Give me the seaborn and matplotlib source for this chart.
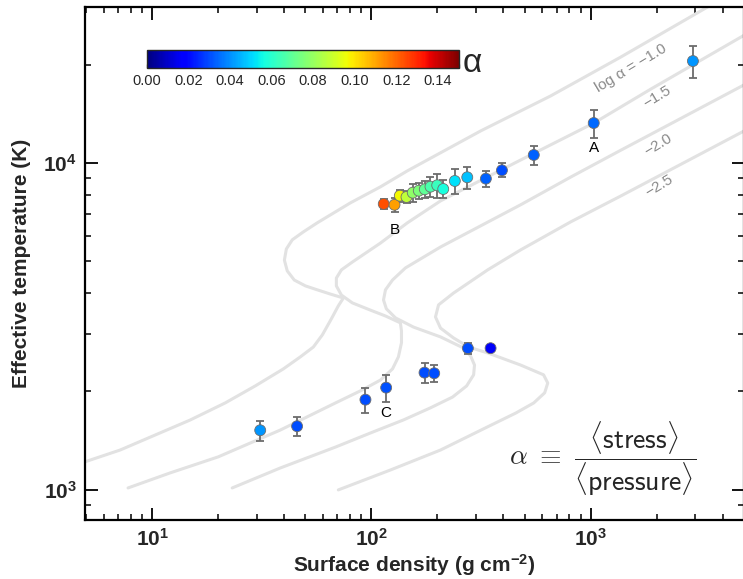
import numpy as np
import pandas as pd
import matplotlib
matplotlib.use("Agg")
import matplotlib.pyplot as plt
import matplotlib.ticker as mticker
from matplotlib.colors import Normalize
from matplotlib.cm import ScalarMappable
import seaborn as sns

# ---- simulation results: surface density (g cm^-2), effective temperature (K) ----
sigma_hot = [113.8, 127.4, 134.7, 144.5, 154.3, 164.4, 175.1, 185.9, 199.5, 212.5,
             240.0, 273.5, 332.5, 393.6, 550.0, 1032.0, 2924.0]
teff_hot = [7494, 7450, 7943, 7870, 8113, 8228, 8310, 8463, 8546, 8326,
            8810, 9042, 8954, 9499, 10580, 13250, 20500]
teff_err_hot = [265, 370, 335, 335, 520, 470, 475, 600, 730, 530,
                750, 700, 510, 470, 710, 1320, 2280]
alpha_hot = [0.124, 0.111, 0.097, 0.087, 0.079, 0.075, 0.070, 0.066, 0.063, 0.057,
             0.052, 0.047, 0.033, 0.030, 0.033, 0.034, 0.041]

sigma_cold = [31.1, 45.8, 93.9, 116.7, 174.6, 193.3, 275.3, 349.4]
teff_cold = [1522, 1566, 1888, 2055, 2284, 2274, 2713, 2713]
teff_err_cold = [107, 100, 165, 197, 165, 135, 100, 60]
alpha_cold = [0.041, 0.030, 0.030, 0.031, 0.030, 0.030, 0.030, 0.016]

# labelled snapshots: (name, surface density, temperature)
marked = [("A", 1032.0, 13250), ("B", 127.4, 7450), ("C", 116.7, 2055)]

# ---- thermal equilibrium S-curves (log10 sigma, log10 Teff) ----
scurve_m10_logsig = [0.694, 0.854, 1.014, 1.174, 1.333, 1.470, 1.598, 1.676, 1.735, 1.776,
                     1.817, 1.849, 1.872, 1.813, 1.753, 1.699, 1.648, 1.616, 1.603, 1.612,
                     1.639, 1.689, 1.753, 1.904, 2.041, 2.164, 2.498, 2.817, 3.137, 3.548]
scurve_m10_logt = [3.086, 3.122, 3.168, 3.214, 3.266, 3.318, 3.370, 3.407, 3.437, 3.474,
                   3.523, 3.563, 3.587, 3.599, 3.612, 3.624, 3.642, 3.670, 3.703, 3.737,
                   3.765, 3.789, 3.817, 3.878, 3.927, 3.976, 4.098, 4.205, 4.324, 4.483]

scurve_m15_logsig = [0.890, 1.082, 1.301, 1.584, 1.836, 1.959, 2.041, 2.096, 2.123, 2.137,
                     2.137, 2.132, 2.064, 1.995, 1.913, 1.863, 1.840, 1.840, 1.863, 1.913,
                     2.041, 2.164, 2.315, 2.680, 3.014, 3.274, 3.708]
scurve_m15_logt = [3.006, 3.052, 3.101, 3.183, 3.266, 3.306, 3.336, 3.370, 3.407, 3.450,
                   3.486, 3.511, 3.532, 3.550, 3.572, 3.596, 3.624, 3.648, 3.673, 3.697,
                   3.755, 3.817, 3.884, 4.009, 4.122, 4.226, 4.394]

scurve_m20_logsig = [1.365, 1.584, 1.836, 1.995, 2.146, 2.269, 2.370, 2.434, 2.466, 2.470,
                     2.452, 2.420, 2.315, 2.192, 2.110, 2.068, 2.055, 2.064, 2.096, 2.155,
                     2.315, 2.680, 2.909, 3.123, 3.708]
scurve_m20_logt = [3.006, 3.067, 3.131, 3.174, 3.214, 3.251, 3.284, 3.318, 3.352, 3.382,
                   3.410, 3.434, 3.468, 3.498, 3.526, 3.554, 3.581, 3.612, 3.642, 3.679,
                   3.743, 3.872, 3.957, 4.034, 4.242]

scurve_m25_logsig = [1.849, 2.087, 2.315, 2.530, 2.658, 2.740, 2.790, 2.804, 2.785, 2.680,
                     2.530, 2.443, 2.374, 2.315, 2.292, 2.306, 2.374, 2.530, 2.680, 2.909,
                     3.137, 3.708]
scurve_m25_logt = [3.000, 3.061, 3.122, 3.193, 3.235, 3.266, 3.297, 3.327, 3.352, 3.382,
                   3.419, 3.437, 3.465, 3.495, 3.529, 3.566, 3.602, 3.673, 3.734, 3.820,
                   3.899, 4.101]

# curve labels: text, sigma, Teff
curve_labels = [("log α = −1.0", 1530, 19500),
                ("−1.5", 2000, 15920),
                ("−2.0", 2023, 11350),
                ("−2.5", 2046, 8510)]

cbar_ticks = [0.00, 0.02, 0.04, 0.06, 0.08, 0.10, 0.12, 0.14]

# ---- style ----
sns.set_style("ticks")
plt.rcParams["font.family"] = ["Liberation Sans", "DejaVu Sans"]
plt.rcParams["mathtext.fontset"] = "custom"
plt.rcParams["mathtext.rm"] = "Liberation Sans"
plt.rcParams["mathtext.bf"] = "Liberation Sans:bold"
plt.rcParams["mathtext.it"] = "Liberation Sans:italic"
plt.rcParams["mathtext.sf"] = "Liberation Sans"

jet = plt.get_cmap("jet")

fig = plt.figure(figsize=(7.43, 5.79), dpi=100)
ax = fig.add_axes([85 / 743, 1 - 520 / 579, (744 - 85) / 743, 513 / 579])
ax.set_xscale("log")
ax.set_yscale("log")

curve_color = "#e2e2e2"
for lsig, lt in [(scurve_m10_logsig, scurve_m10_logt),
                 (scurve_m15_logsig, scurve_m15_logt),
                 (scurve_m20_logsig, scurve_m20_logt),
                 (scurve_m25_logsig, scurve_m25_logt)]:
    sns.lineplot(x=np.power(10.0, lsig), y=np.power(10.0, lt), sort=False,
                 estimator=None, color=curve_color, lw=2.2, ax=ax, zorder=1)

for text, sx, ty in curve_labels:
    ax.text(sx, ty, text, rotation=31, rotation_mode="anchor", ha="center",
            va="center", color="#8a8a8a", fontsize=11, zorder=2)

df = pd.DataFrame({
    "sigma": sigma_hot + sigma_cold,
    "teff": teff_hot + teff_cold,
    "err": teff_err_hot + teff_err_cold,
    "alpha": alpha_hot + alpha_cold,
})

ax.errorbar(df["sigma"], df["teff"], yerr=df["err"], fmt="none",
            ecolor="#6c6c6c", elinewidth=1.3, capsize=2.6, capthick=1.3, zorder=3)
sns.scatterplot(data=df, x="sigma", y="teff", hue="alpha", palette=jet,
                hue_norm=(0.0, 0.15), s=62, edgecolor="#6e6e6e", linewidth=0.6,
                legend=False, zorder=4, ax=ax)

for name, sx, ty in marked:
    ax.annotate(name, (sx, ty), xytext=(0, -18), textcoords="offset points",
                ha="center", va="center", fontsize=11, color="black")

ax.text(0.785, 0.119,
        r"$\alpha\ \equiv\ \dfrac{\langle\mathsf{stress}\rangle}{\langle\mathsf{pressure}\rangle}$",
        transform=ax.transAxes, ha="center", va="center", fontsize=20,
        math_fontfamily="cm")

ax.set_xlim(4.94, 5000)
ax.set_ylim(809, 30000)

fmt = mticker.FuncFormatter(lambda v, pos: r"$\mathbf{10^{%d}}$" % int(round(np.log10(v))))
for axis in (ax.xaxis, ax.yaxis):
    axis.set_major_locator(mticker.LogLocator(base=10, numticks=10))
    axis.set_minor_locator(mticker.LogLocator(base=10, subs=np.arange(2, 10), numticks=20))
    axis.set_major_formatter(fmt)
    axis.set_minor_formatter(mticker.NullFormatter())

ax.tick_params(which="both", direction="in", top=True, right=True, color="black")
ax.tick_params(which="major", length=9, width=1.3, labelsize=15, pad=6)
ax.tick_params(which="minor", length=4.5, width=1.1)
for sp in ax.spines.values():
    sp.set_linewidth(1.6)
    sp.set_color("black")

ax.set_xlabel(r"Surface density (g cm$^{\mathbf{-2}}$)", fontsize=15, fontweight="bold",
              labelpad=1)
ax.set_ylabel("Effective temperature (K)", fontsize=15, fontweight="bold", labelpad=9)

# colour scale for alpha
cax = fig.add_axes([147 / 743, 1 - 68.3 / 579, 311.6 / 743, 18.3 / 579])
sm = ScalarMappable(norm=Normalize(0.0, 0.15), cmap=jet)
cbar = fig.colorbar(sm, cax=cax, orientation="horizontal")
cbar.outline.set_linewidth(1.0)
cbar.set_ticks(cbar_ticks)
cax.xaxis.set_major_formatter(mticker.FormatStrFormatter("%.2f"))
cax.xaxis.set_minor_locator(mticker.MultipleLocator(0.01))
cax.tick_params(which="both", direction="in", bottom=True, top=False, length=3,
                width=0.9, labelsize=10.5, pad=4)
fig.text(463 / 743, 1 - 72 / 579, "α", fontsize=24, ha="left", va="baseline")

fig.savefig("out.png", dpi=100)
